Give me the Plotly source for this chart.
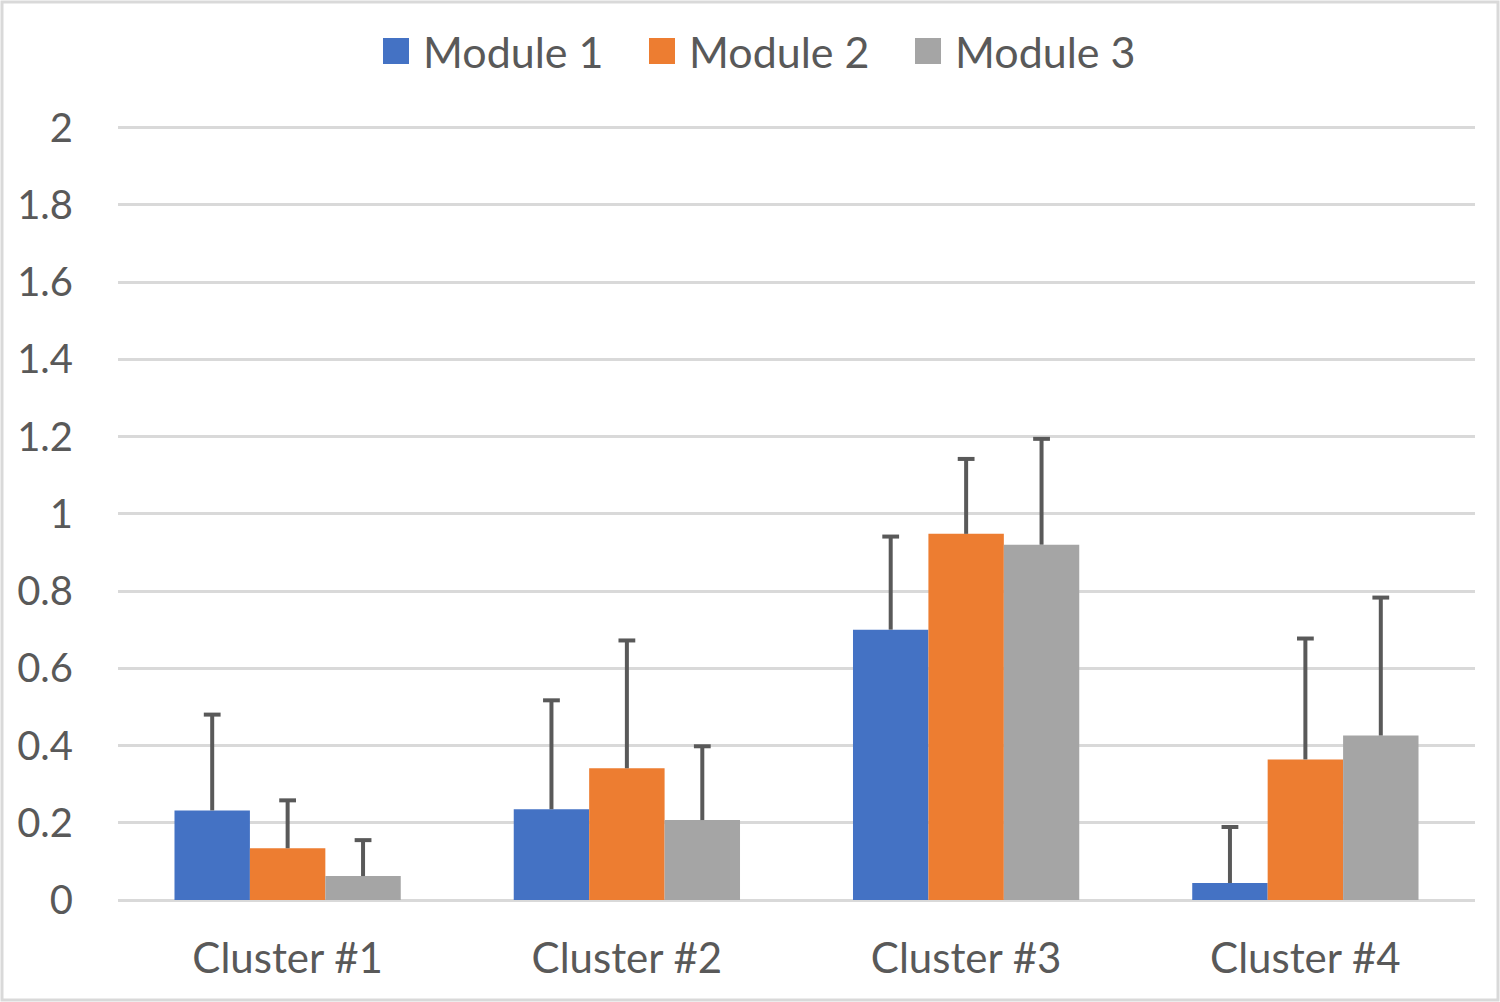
import plotly.graph_objects as go

categories = ["Cluster #1", "Cluster #2", "Cluster #3", "Cluster #4"]
series_names = ["Module 1", "Module 2", "Module 3"]
module1 = [0.232, 0.235, 0.700, 0.044]
module2 = [0.134, 0.341, 0.948, 0.364]
module3 = [0.062, 0.207, 0.920, 0.426]
err1 = [0.248, 0.282, 0.241, 0.145]
err2 = [0.124, 0.331, 0.194, 0.313]
err3 = [0.093, 0.191, 0.274, 0.357]
colors = ["#4472C4", "#ED7D31", "#A5A5A5"]
yticks = [0, 0.2, 0.4, 0.6, 0.8, 1, 1.2, 1.4, 1.6, 1.8, 2]
ytick_text = ["0", "0.2", "0.4", "0.6", "0.8", "1", "1.2", "1.4", "1.6", "1.8", "2"]

W, H = 1500, 1002
ml, mr, mt, mb = 118, 25, 126, 102
pw, ph = W - ml - mr, H - mt - mb
bargap = 0.333
nser = len(series_names)
bw = (1 - bargap) / nser
xs = list(range(len(categories)))


def px_x(p):
    return (p - ml) / pw


def px_y(p):
    return 1 - (p - mt) / ph


fig = go.Figure()
for k, (name, vals, c) in enumerate(zip(series_names, [module1, module2, module3], colors)):
    fig.add_trace(go.Bar(
        x=xs, y=vals, name=name, marker=dict(color=c, line=dict(width=0)),
        showlegend=False,
    ))

# error bars (plus direction only)
for k, (vals, errs) in enumerate(zip([module1, module2, module3], [err1, err2, err3])):
    ex, ey = [], []
    for i, (v, e) in enumerate(zip(vals, errs)):
        xc = xs[i] + (k - (nser - 1) / 2) * bw
        ex += [xc, xc, None]
        ey += [v, v + e, None]
    fig.add_trace(go.Scatter(x=ex, y=ey, mode="lines", line=dict(color="#595959", width=4),
                             showlegend=False, hoverinfo="skip"))
    capx = [xs[i] + (k - (nser - 1) / 2) * bw for i in range(len(vals))]
    capy = [v + e for v, e in zip(vals, errs)]
    fig.add_trace(go.Scatter(x=capx, y=capy, mode="markers",
                             marker=dict(symbol="line-ew", size=12, line=dict(color="#595959", width=4)),
                             showlegend=False, hoverinfo="skip"))

# custom legend (large square swatches)
shapes = [dict(type="rect", xref="paper", yref="paper",
               x0=px_x(2), x1=px_x(W - 2), y0=px_y(H - 2), y1=px_y(2),
               line=dict(color="#D9D9D9", width=3))]
annotations = []
sq_left = [383, 649, 915]
for name, c, sx in zip(series_names, colors, sq_left):
    shapes.append(dict(type="rect", xref="paper", yref="paper",
                       x0=px_x(sx), x1=px_x(sx + 26), y0=px_y(64), y1=px_y(38),
                       fillcolor=c, line=dict(width=0)))
    annotations.append(dict(text=name, xref="paper", yref="paper", x=px_x(sx + 38), y=px_y(51),
                            xanchor="left", yanchor="middle", showarrow=False,
                            font=dict(size=43, color="#595959")))

fig.update_layout(
    width=W, height=H,
    margin=dict(l=ml, r=mr, t=mt, b=mb),
    paper_bgcolor="white", plot_bgcolor="white",
    barmode="group", bargap=bargap, bargroupgap=0,
    font=dict(family="Lato, Calibri, sans-serif", color="#595959", size=40),
    showlegend=False,
    xaxis=dict(range=[-0.5, len(categories) - 0.5], tickvals=xs, ticktext=categories,
               showline=False, ticks="", tickfont=dict(size=42), showgrid=False,
               zeroline=False, ticklabelstandoff=30),
    yaxis=dict(range=[0, 2.004], tickvals=yticks, ticktext=ytick_text, showgrid=True,
               gridcolor="#D9D9D9", gridwidth=3, zeroline=True, zerolinecolor="#D9D9D9",
               zerolinewidth=3, ticks="", tickfont=dict(size=40), ticklabelstandoff=44),
    shapes=shapes,
    annotations=annotations,
)

fig.write_html("out.html", config={"displayModeBar": False},
               post_script="document.body.style.margin='0';document.body.style.overflow='hidden';")
